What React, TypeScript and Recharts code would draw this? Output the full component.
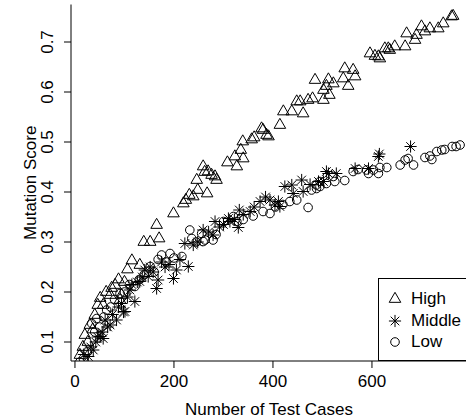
import React from "react";
import { ScatterChart, Scatter, XAxis, YAxis, Label } from "recharts";

// values
const highX = [10, 16, 20, 26, 30, 36, 40, 46, 51, 57, 63, 71, 74, 81, 88, 91, 94, 100, 106, 115, 131, 139, 152, 165, 170, 199, 219, 224, 231, 239, 246, 248, 259, 262, 267, 269, 276, 283, 286, 308, 323, 327, 335, 339, 340, 357, 362, 377, 380, 387, 391, 414, 421, 438, 448, 455, 461, 471, 480, 485, 502, 502, 508, 512, 514, 522, 542, 545, 552, 562, 566, 596, 606, 613, 616, 626, 633, 636, 646, 667, 670, 687, 690, 700, 707, 717, 734, 744, 761, 764];
const highY = [0.074, 0.09, 0.114, 0.1, 0.134, 0.125, 0.154, 0.174, 0.188, 0.174, 0.2, 0.194, 0.208, 0.214, 0.225, 0.184, 0.194, 0.22, 0.245, 0.263, 0.254, 0.3, 0.3, 0.334, 0.307, 0.357, 0.377, 0.384, 0.394, 0.391, 0.424, 0.404, 0.451, 0.44, 0.397, 0.441, 0.434, 0.431, 0.424, 0.459, 0.471, 0.451, 0.484, 0.501, 0.467, 0.505, 0.509, 0.527, 0.524, 0.514, 0.511, 0.534, 0.561, 0.561, 0.581, 0.581, 0.557, 0.584, 0.587, 0.624, 0.584, 0.604, 0.612, 0.625, 0.594, 0.617, 0.627, 0.647, 0.612, 0.644, 0.631, 0.677, 0.672, 0.671, 0.667, 0.687, 0.687, 0.684, 0.691, 0.691, 0.717, 0.704, 0.714, 0.731, 0.721, 0.727, 0.727, 0.737, 0.751, 0.752];

const midX = [18, 27, 32, 37, 42, 46, 51, 55, 57, 61, 66, 71, 76, 84, 88, 94, 98, 101, 106, 111, 115, 121, 126, 131, 136, 141, 148, 152, 158, 165, 168, 175, 182, 190, 199, 205, 212, 222, 229, 239, 248, 259, 270, 279, 283, 292, 300, 310, 313, 322, 330, 332, 340, 354, 362, 374, 385, 394, 404, 411, 414, 424, 438, 441, 458, 461, 475, 492, 502, 508, 512, 528, 566, 593, 613, 615, 678];
const midY = [0.075, 0.071, 0.09, 0.084, 0.1, 0.11, 0.111, 0.12, 0.107, 0.144, 0.13, 0.134, 0.155, 0.144, 0.17, 0.177, 0.16, 0.161, 0.19, 0.204, 0.215, 0.181, 0.22, 0.221, 0.23, 0.244, 0.231, 0.25, 0.24, 0.207, 0.224, 0.26, 0.25, 0.255, 0.227, 0.244, 0.265, 0.297, 0.251, 0.294, 0.3, 0.324, 0.32, 0.314, 0.341, 0.33, 0.335, 0.347, 0.341, 0.345, 0.329, 0.364, 0.355, 0.361, 0.37, 0.381, 0.39, 0.384, 0.374, 0.381, 0.371, 0.411, 0.414, 0.397, 0.424, 0.401, 0.415, 0.421, 0.421, 0.441, 0.437, 0.437, 0.447, 0.447, 0.471, 0.476, 0.491];

const lowX = [10, 17, 25, 34, 40, 44, 50, 58, 64, 72, 80, 91, 100, 110, 121, 130, 140, 152, 160, 168, 175, 184, 192, 200, 216, 232, 236, 245, 256, 259, 263, 279, 285, 300, 320, 327, 340, 360, 380, 394, 405, 420, 434, 448, 471, 478, 488, 495, 488, 495, 508, 522, 525, 545, 562, 572, 589, 593, 603, 613, 616, 630, 657, 667, 673, 684, 707, 717, 721, 731, 741, 747, 762, 770, 778];
const lowY = [0.06, 0.067, 0.08, 0.137, 0.12, 0.147, 0.13, 0.15, 0.164, 0.17, 0.185, 0.197, 0.2, 0.215, 0.211, 0.225, 0.235, 0.251, 0.24, 0.265, 0.274, 0.26, 0.277, 0.268, 0.271, 0.324, 0.307, 0.3, 0.317, 0.301, 0.304, 0.304, 0.315, 0.341, 0.351, 0.341, 0.345, 0.352, 0.361, 0.357, 0.37, 0.375, 0.381, 0.384, 0.369, 0.404, 0.407, 0.411, 0.414, 0.421, 0.417, 0.431, 0.421, 0.423, 0.441, 0.445, 0.444, 0.437, 0.444, 0.437, 0.449, 0.449, 0.454, 0.464, 0.467, 0.454, 0.469, 0.472, 0.465, 0.481, 0.484, 0.485, 0.491, 0.491, 0.494];

const xTicks = [0, 200, 400, 600];
const yTicks = [0.1, 0.2, 0.3, 0.4, 0.5, 0.6, 0.7];
const seriesNames = ["High", "Middle", "Low"];

const FONT = "'Liberation Sans', Arial, sans-serif";
const S = 4.3; // R symbol radius

const zip = (xs: number[], ys: number[]) => xs.map((x, i) => ({ x, y: ys[i] }));

function Triangle({ cx, cy }: any) {
  const r = 1.555 * S, yc = 0.7775 * S, xc = 1.347 * S;
  return (
    <polygon
      points={`${cx},${cy - r} ${cx + xc},${cy + yc} ${cx - xc},${cy + yc}`}
      fill="none"
      stroke="#000"
      strokeWidth={1}
    />
  );
}

function Star({ cx, cy }: any) {
  const a = 1.414 * S, d = S;
  return (
    <g stroke="#000" strokeWidth={1}>
      <line x1={cx - a} y1={cy} x2={cx + a} y2={cy} />
      <line x1={cx} y1={cy - a} x2={cx} y2={cy + a} />
      <line x1={cx - d} y1={cy - d} x2={cx + d} y2={cy + d} />
      <line x1={cx - d} y1={cy + d} x2={cx + d} y2={cy - d} />
    </g>
  );
}

function Ring({ cx, cy }: any) {
  return <circle cx={cx} cy={cy} r={S} fill="none" stroke="#000" strokeWidth={1} />;
}

const shapes = [Triangle, Star, Ring];

const XTick = ({ x, payload }: any) => (
  <text x={x} y={387} textAnchor="middle" fontFamily={FONT} fontSize={17} fill="#000">
    {payload.value}
  </text>
);

const YTick = ({ y, payload }: any) => (
  <text
    x={53}
    y={y}
    transform={`rotate(-90, 53, ${y})`}
    textAnchor="middle"
    fontFamily={FONT}
    fontSize={17}
    fill="#000"
  >
    {payload.value.toFixed(1)}
  </text>
);

function LegendBox() {
  return (
    <div
      style={{
        position: "absolute",
        left: 378,
        top: 278,
        width: 120,
        height: 83,
        border: "1px solid #000",
        background: "#fff",
        boxSizing: "border-box",
        fontFamily: FONT,
        fontSize: 17,
      }}
    >
      {seriesNames.map((name, i) => {
        const Shape = shapes[i];
        return (
          <div key={name} style={{ position: "absolute", left: 0, top: 10 + i * 21.5, height: 20, display: "flex", alignItems: "center" }}>
            <svg width={32} height={20} style={{ display: "block" }}>
              <Shape cx={16} cy={10} />
            </svg>
            <span style={{ lineHeight: "20px" }}>{name}</span>
          </div>
        );
      })}
    </div>
  );
}

export default function App() {
  const series = [zip(highX, highY), zip(midX, midY), zip(lowX, lowY)];
  return (
    <div style={{ position: "absolute", left: 0, top: 0, width: 466, height: 420, overflow: "hidden", background: "#fff" }}>
      <ScatterChart width={468} height={420} margin={{ top: 4.5, right: 1, bottom: 0, left: 0 }}>
        <XAxis
          dataKey="x"
          type="number"
          domain={[-8, 792]}
          ticks={xTicks}
          allowDataOverflow
          height={59}
          tickSize={7}
          tick={<XTick />}
          stroke="#000"
          tickLine={{ stroke: "#000" }}
        >
          <Label
            content={({ viewBox }: any) => (
              <text x={viewBox.x + viewBox.width / 2} y={415} textAnchor="middle" fontFamily={FONT} fontSize={17} fill="#000">
                Number of Test Cases
              </text>
            )}
          />
        </XAxis>
        <XAxis xAxisId="top" orientation="top" type="number" domain={[-8, 792]} height={0} tick={false} tickLine={false} stroke="#000" />
        <YAxis
          dataKey="y"
          type="number"
          domain={[0.062, 0.775]}
          ticks={yTicks}
          allowDataOverflow
          width={71}
          tickSize={7}
          tick={<YTick />}
          stroke="#000"
          tickLine={{ stroke: "#000" }}
        >
          <Label
            content={({ viewBox }: any) => {
              const cy = viewBox.y + viewBox.height / 2;
              return (
                <text x={36} y={cy} transform={`rotate(-90, 36, ${cy})`} textAnchor="middle" fontFamily={FONT} fontSize={17} fill="#000">
                  Mutation Score
                </text>
              );
            }}
          />
        </YAxis>
        {series.map((data, i) => (
          <Scatter key={seriesNames[i]} name={seriesNames[i]} data={data} shape={shapes[i]} isAnimationActive={false} />
        ))}
      </ScatterChart>
      <LegendBox />
    </div>
  );
}
